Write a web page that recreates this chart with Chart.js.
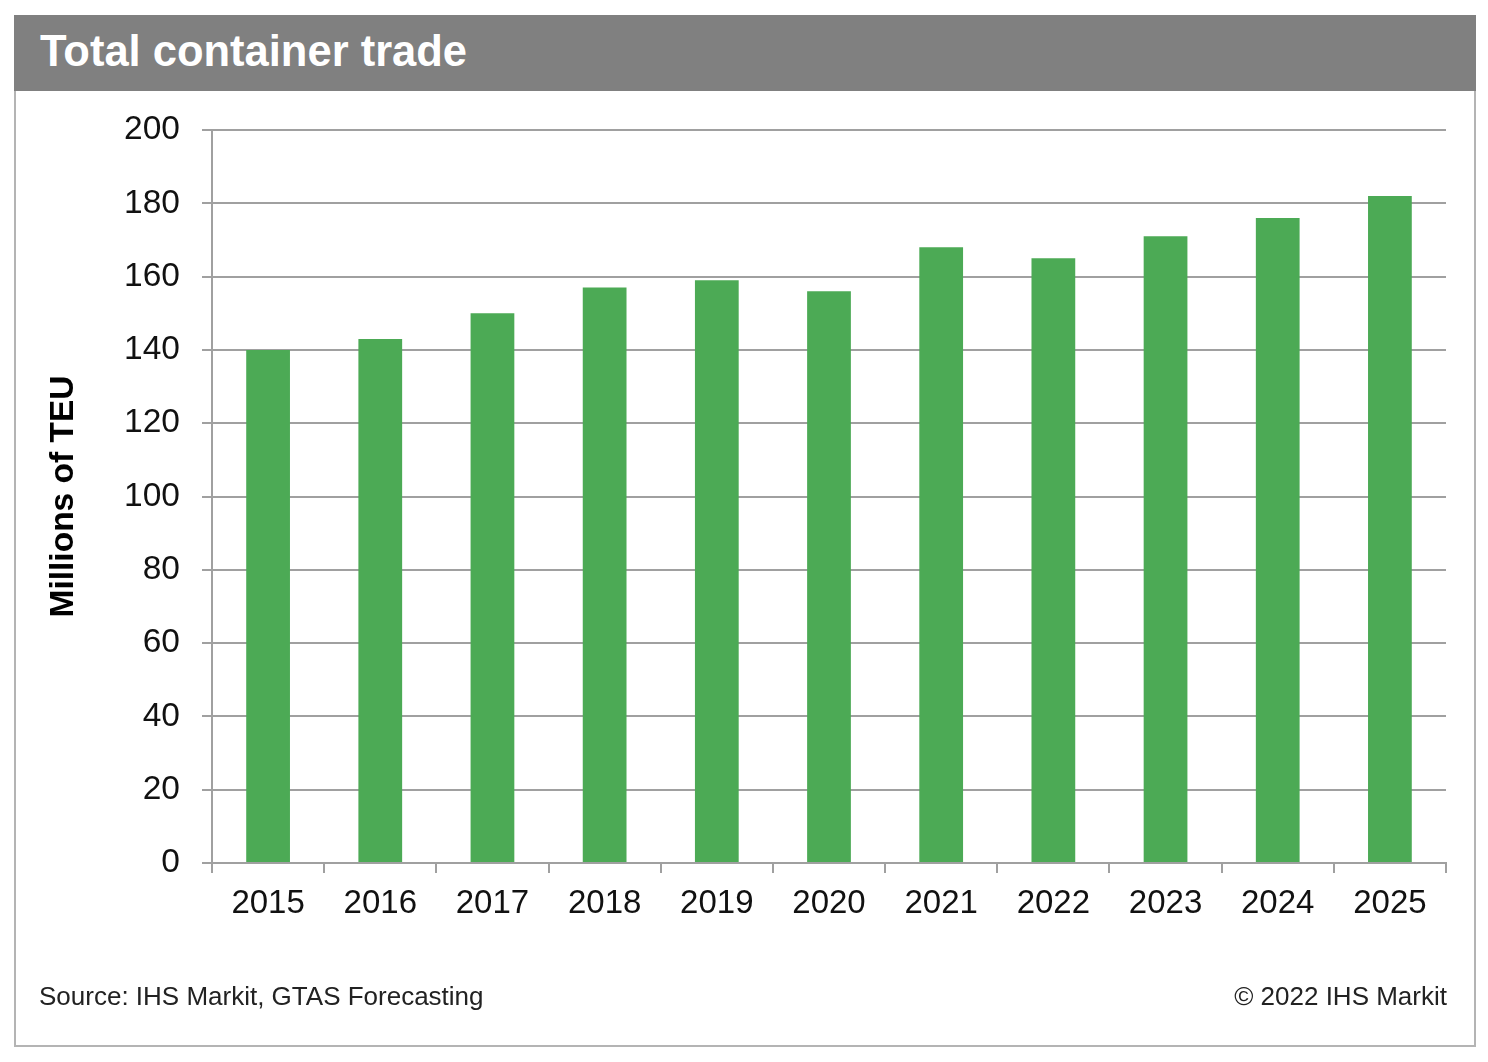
<!DOCTYPE html>
<html>
<head>
<meta charset="utf-8">
<script src="https://cdn.jsdelivr.net/npm/chart.js@4"></script>
<style>
  html, body { margin: 0; padding: 0; background: #ffffff; }
  body { width: 1488px; height: 1062px; position: relative; overflow: hidden; font-family: "Liberation Sans", Arial, sans-serif; }
  #frame { position: absolute; left: 14px; top: 15px; width: 1458px; height: 1028px; border: 2px solid #b4b4b4; box-sizing: content-box; }
  #header { position: absolute; left: 14px; top: 15px; width: 1462px; height: 76px; background: #808080; }
  #title { position: absolute; left: 40px; top: 26px; color: #ffffff; font-weight: bold; font-size: 43.5px; line-height: 50px; white-space: nowrap; }
  #source { position: absolute; left: 39px; top: 981px; color: #222; font-size: 26px; line-height: 30px; white-space: nowrap; }
  #copy { position: absolute; right: 41px; top: 981px; color: #222; font-size: 26px; line-height: 30px; white-space: nowrap; }
  #wrap { position: absolute; left: 0; top: 0; width: 1488px; height: 1062px; }
</style>
</head>
<body>
<div id="frame"></div>
<div id="header"></div>
<div id="title">Total container trade</div>
<div id="wrap"><canvas id="c"></canvas></div>
<div id="source">Source: IHS Markit, GTAS Forecasting</div>
<div id="copy">© 2022 IHS Markit</div>
<script>
const categories = ["2015","2016","2017","2018","2019","2020","2021","2022","2023","2024","2025"];
const containerTrade = [140, 143, 150, 157, 159, 156, 168, 165, 171, 176, 182];
const yTicks = [0, 20, 40, 60, 80, 100, 120, 140, 160, 180, 200];
const yTitle = "Millions of TEU";

const gridColor = "#a0a0a0";
const fontFamily = "'Liberation Sans', Arial, sans-serif";

new Chart(document.getElementById("c"), {
  type: "bar",
  data: {
    labels: categories,
    datasets: [{
      data: containerTrade,
      backgroundColor: "#4caa55",
      borderWidth: 0,
      barPercentage: 0.39,
      categoryPercentage: 1.0
    }]
  },
  options: {
    responsive: true,
    maintainAspectRatio: false,
    animation: false,
    devicePixelRatio: 1,
    layout: { padding: { left: 20, top: 130, right: 42, bottom: 0 } },
    plugins: { legend: { display: false }, tooltip: { enabled: false }, title: { display: false } },
    scales: {
      x: {
        offset: true,
        grid: { display: true, drawOnChartArea: false, drawTicks: true, tickLength: 10, color: gridColor, lineWidth: 2, offset: true },
        border: { display: true, color: gridColor, width: 2 },
        ticks: { color: "#111", font: { family: fontFamily, size: 33 }, padding: 11, maxRotation: 0, autoSkip: false },
        afterFit: (s) => { s.height = 1062 - 863; }
      },
      y: {
        min: 0, max: 200,
        afterBuildTicks: (s) => { s.ticks = yTicks.map(v => ({ value: v })); },
        grid: { color: gridColor, lineWidth: 2, drawTicks: true, tickLength: 10 },
        border: { display: true, color: gridColor, width: 2 },
        ticks: { color: "#111", font: { family: fontFamily, size: 33.5 }, padding: 22 },
        title: { display: true, text: yTitle, color: "#000", font: { family: fontFamily, size: 33.5, weight: "bold" }, padding: { top: 24, bottom: 0 } },
        afterFit: (s) => { s.width = 212 - 20; }
      }
    }
  }
});
</script>
</body>
</html>
